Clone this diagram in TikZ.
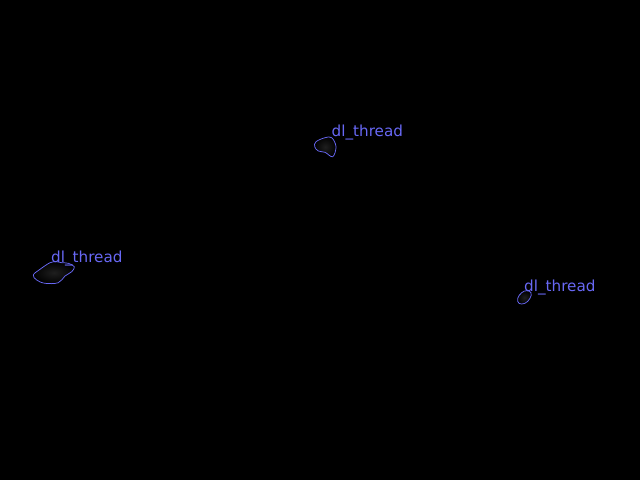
\documentclass[tikz,border=0pt]{standalone}
\usepackage{fontspec}
\setmainfont{DejaVu Sans}
\definecolor{threadblue}{RGB}{104,104,245}
\tikzset{
  blob/.style={draw=threadblue,line width=0.75pt,inner color=black!88!white,outer color=black},
  threadlabel/.style={text=threadblue,inner sep=0pt,anchor=base west,font=\fontsize{15.2}{17}\selectfont}
}

\begin{document}
\begin{tikzpicture}[x=1pt,y=-1pt]
    % canvas
    \fill[black] (0,0) rectangle (640,480);
    \useasboundingbox (0,0) rectangle (640,480);
    % top thread
    \shade[blob] plot[smooth cycle,tension=0.6] coordinates
      {(314.7,146.7) (316,141.7) (325,137.7) (331.7,137.7) (336,146.7) (332.7,156.7) (325,152.3) (318.3,151)};
    \node[threadlabel] (t1) at (331.5,136.5) {dl\_thread};
    % left thread
    \shade[blob] plot[smooth cycle,tension=0.6] coordinates
      {(33.3,275) (40,269.3) (50,262.7) (56.7,261.7) (61.7,262.7) (68.3,263.3) (74.3,266.7) (71.7,271.7) (65,276) (58.3,282.7) (45,283.3) (36.7,280)};
    \node[threadlabel] (t2) at (51,262) {dl\_thread};
    % right thread
    \shade[blob] plot[smooth cycle,tension=0.7] coordinates
      {(517.7,298.3) (521.7,292.7) (526.7,290.7) (531,292.7) (530,298.3) (525,303.3) (519,303.3)};
    \node[threadlabel] (t3) at (524,291) {dl\_thread};
\end{tikzpicture}
\end{document}
